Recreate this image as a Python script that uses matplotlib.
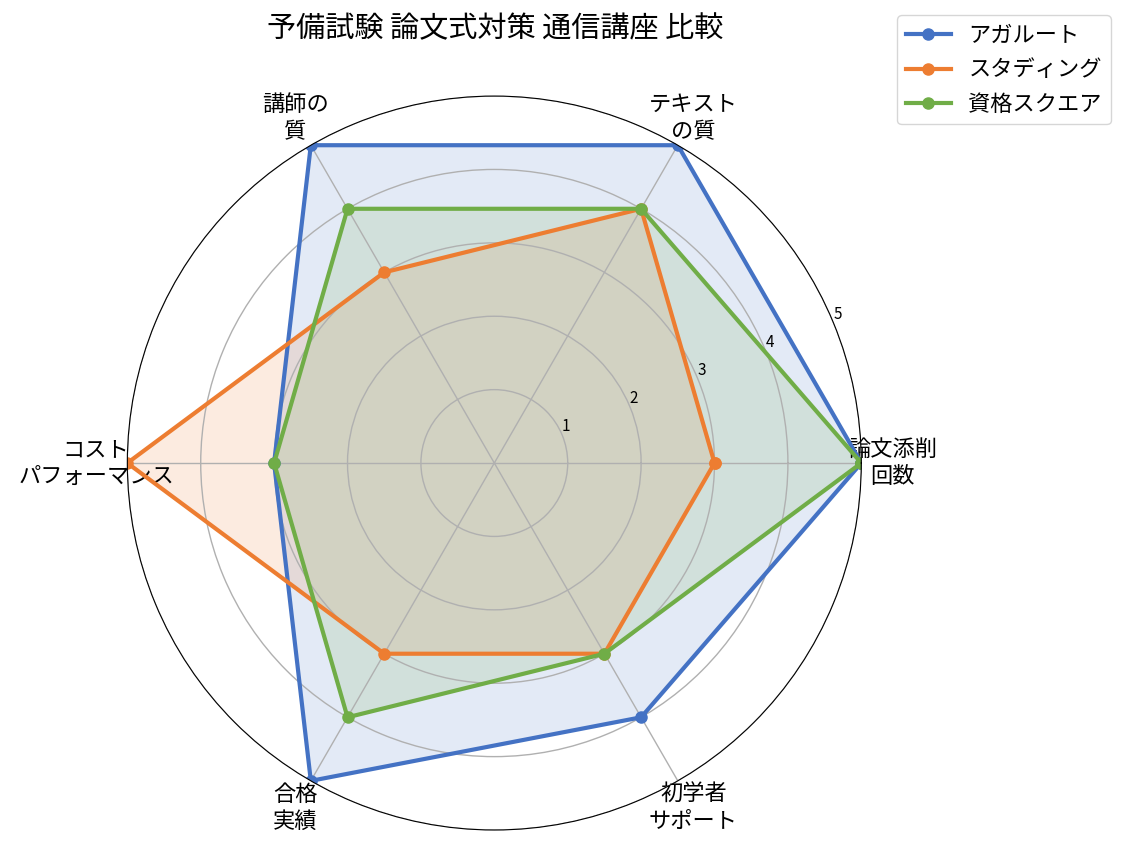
import matplotlib
matplotlib.use("Agg")
import matplotlib.pyplot as plt
import numpy as np

plt.rcParams['font.family'] = ['Noto Sans CJK JP', 'DejaVu Sans']

categories = ['論文添削\n回数', 'テキスト\nの質', '講師の\n質', 'コスト\nパフォーマンス', '合格\n実績', '初学者\nサポート']
agaroot = [5, 5, 5, 3, 5, 4]
studying = [3, 4, 3, 5, 3, 3]
shikaku_square = [5, 4, 4, 3, 4, 3]
series_names = ['アガルート', 'スタディング', '資格スクエア']
colors = ['#4472C4', '#ED7D31', '#70AD47']

angles = np.linspace(0, 2 * np.pi, len(categories), endpoint=False)
angles_closed = np.concatenate([angles, angles[:1]])

fig = plt.figure(figsize=(11.26, 8.5), dpi=100)
ax = fig.add_axes([0.113, 0.0235, 0.652, 0.8635], projection='polar')

for vals, name, c in zip([agaroot, studying, shikaku_square], series_names, colors):
    v = np.concatenate([vals, vals[:1]])
    ax.plot(angles_closed, v, color=c, linewidth=3, marker='o', markersize=8, label=name)
    ax.fill(angles_closed, v, color=c, alpha=0.15)

ax.set_ylim(0, 5)
ax.set_yticks([1, 2, 3, 4, 5])
ax.set_yticklabels(['1', '2', '3', '4', '5'], fontsize=11)
ax.set_xticks(angles)
ax.set_xticklabels(categories, fontsize=16)
ax.tick_params(axis='x', pad=12)
ax.grid(color='#b0b0b0', linewidth=1)

fig.text(0.44, 0.966, '予備試験 論文式対策 通信講座 比較', ha='center', va='center', fontsize=21)
fig.legend(loc='upper left', bbox_to_anchor=(0.787, 0.995), fontsize=16)

fig.savefig('out.png', dpi=100)
